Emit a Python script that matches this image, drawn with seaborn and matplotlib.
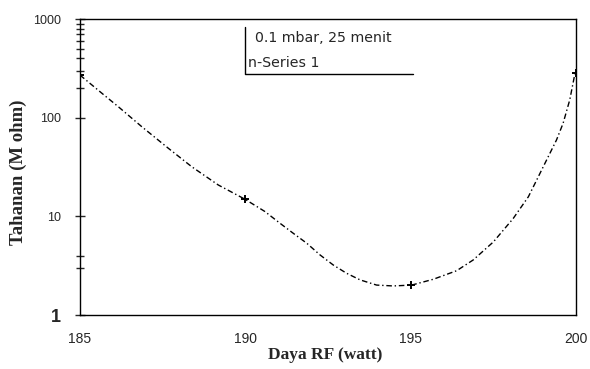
import matplotlib
matplotlib.use("Agg")
import matplotlib.pyplot as plt
import matplotlib.ticker as mticker
import seaborn as sns
import pandas as pd

# measured data points
power = [185, 190, 195, 200]
resistance = [270, 14.9, 2.01, 282]

# smooth curve
curve_x = [185.0, 185.66, 186.16, 186.87, 187.67, 188.38, 189.18, 189.99,
           190.59, 191.05, 191.45, 191.86, 192.26, 192.66, 193.06, 193.47,
           193.97, 194.47, 195.03, 195.68, 196.39, 196.89, 197.50, 198.10,
           198.56, 198.81, 199.11, 199.41, 199.61, 199.81, 199.97]
curve_y = [270, 177, 129, 80.9, 49, 31.8, 20.8, 14.9,
           11.2, 8.5, 6.73, 5.33, 4.06, 3.21, 2.65, 2.27,
           2.01, 1.97, 2.01, 2.30, 2.81, 3.61, 5.5, 9.5,
           15.8, 23.3, 37.2, 59.4, 87.7, 151, 282]

x_ticks = [185, 190, 195, 200]
x_tick_labels = ["185", "190", "195", "200"]
y_ticks = [1, 10, 100, 1000]
y_tick_labels = ["1", "10", "100", "1000"]
y_minor = [3, 4, 200, 300, 400, 500, 600, 700, 800, 900]

legend_lines = ["0.1 mbar, 25 menit", "n-Series 1"]

sns.set_style("ticks")
plt.rcParams['font.family'] = ['Liberation Sans', 'DejaVu Sans']

fig = plt.figure(figsize=(5.9, 3.69), dpi=100)
ax = fig.add_axes([80 / 590, 54 / 369, 496 / 590, 296 / 369])

curve_df = pd.DataFrame({"x": curve_x, "y": curve_y})
pts_df = pd.DataFrame({"x": power, "y": resistance})

sns.lineplot(data=curve_df, x="x", y="y", ax=ax, color="black", linewidth=1.0,
             linestyle=(0, (4, 2, 1, 2)), estimator=None, sort=False)
sns.scatterplot(data=pts_df, x="x", y="y", ax=ax, color="black", marker="+",
                s=30, linewidth=1.4, zorder=5)

ax.set_yscale("log")
ax.set_xlim(185, 200)
ax.set_ylim(1, 1000)
ax.set_xticks(x_ticks)
ax.set_xticklabels(x_tick_labels, fontsize=10)
ax.yaxis.set_major_locator(mticker.FixedLocator(y_ticks))
ax.yaxis.set_major_formatter(mticker.FixedFormatter(y_tick_labels))
ax.yaxis.set_minor_locator(mticker.FixedLocator(y_minor))
ax.yaxis.set_minor_formatter(mticker.NullFormatter())
ax.tick_params(axis="y", which="major", direction="inout", length=7, width=1,
               labelsize=9, pad=10)
ax.tick_params(axis="y", which="minor", direction="inout", length=6, width=1)
ax.tick_params(axis="x", which="both", length=0, labelsize=10, pad=12)
ax.get_yticklabels()[0].set_fontweight("bold")
ax.get_yticklabels()[0].set_fontsize(13)

for s in ax.spines.values():
    s.set_visible(True)
    s.set_color("black")
    s.set_linewidth(1.0)

ax.set_xlabel("Daya RF (watt)", family="Liberation Serif", fontweight="bold",
              fontsize=12.5)
ax.set_ylabel("Tahanan (M ohm)", family="Liberation Serif", fontweight="bold",
              fontsize=13.5)
ax.xaxis.set_label_coords((325 - 80) / 496, (315 - 347) / 296)
ax.xaxis.label.set_va("top")
ax.yaxis.set_label_coords((27 - 80) / 496, (315 - 172.5) / 296)

# legend box (left and bottom edges only)
lx0 = (245 - 80) / 496
lx1 = (413 - 80) / 496
ly0 = (315 - 74.3) / 296
ly1 = (315 - 26.7) / 296
ax.plot([lx0, lx0, lx1], [ly1, ly0, ly0], transform=ax.transAxes, color="black",
        linewidth=1.0, clip_on=False)
ax.text((255 - 80) / 496, (315 - 38.3) / 296, legend_lines[0], transform=ax.transAxes,
        fontsize=10.2, family="DejaVu Sans", va="center", ha="left")
ax.text((248 - 80) / 496, (315 - 63.3) / 296, legend_lines[1], transform=ax.transAxes,
        fontsize=10.2, family="DejaVu Sans", va="center", ha="left")

fig.savefig("out.png", dpi=100)
